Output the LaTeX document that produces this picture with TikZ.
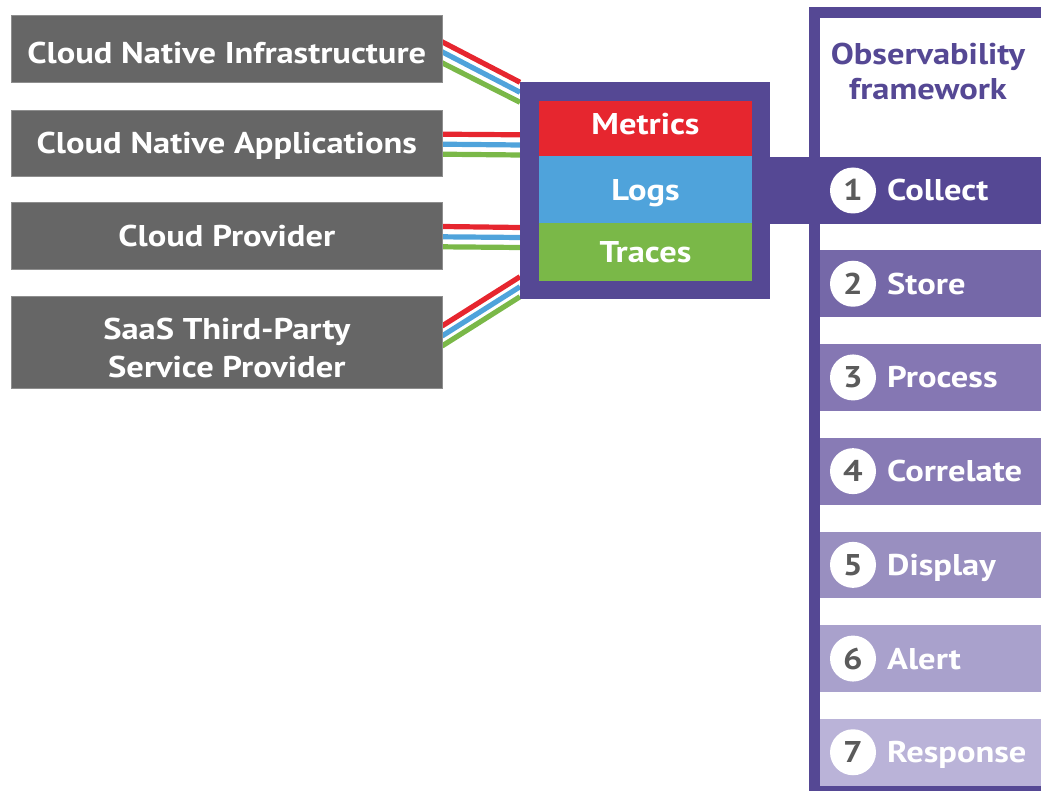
\documentclass[tikz,border=0pt]{standalone}
\usepackage{fontspec}
\setmainfont{PT Sans}[FakeStretch=1.15]
\usetikzlibrary{calc,backgrounds}
\definecolor{purp}{HTML}{554894}
\definecolor{stB}{HTML}{7568A8}
\definecolor{stC}{HTML}{8577B3}
\definecolor{stD}{HTML}{887BB5}
\definecolor{stE}{HTML}{998FC0}
\definecolor{stF}{HTML}{A9A1CC}
\definecolor{stG}{HTML}{BAB3D8}
\definecolor{wred}{HTML}{E6262F}
\definecolor{wblue}{HTML}{4FA3DB}
\definecolor{wgreen}{HTML}{7AB848}
\definecolor{srcgray}{HTML}{666666}
\definecolor{srcedge}{HTML}{8E8E8E}
\definecolor{numgray}{HTML}{5B5B5B}
\begin{document}
\begin{tikzpicture}[x=1pt,y=-1pt,
  txt/.style={font=\fontsize{30}{37.7}\selectfont\bfseries, text=white},
  src/.style={txt, fill=srcgray, draw=srcedge, line width=0.7pt, minimum width=430.5pt,
    inner sep=0pt, outer sep=0pt, text height=21pt, text depth=0pt},
  cell/.style={txt, minimum width=213pt, inner sep=0pt, outer sep=0pt,
    text height=21pt, text depth=0pt},
  band/.style={minimum width=240pt, minimum height=66.7pt, inner sep=0pt, outer sep=0pt},
  num/.style={circle, fill=white, minimum size=46pt, inner sep=0pt,
    font=\fontsize{30}{36}\selectfont\bfseries, text=numgray, text height=21pt, text depth=0pt},
  steplabel/.style={txt, anchor=west, inner sep=0pt, text height=21pt, text depth=0pt},
  wire/.style={line width=5.2pt}
]
\useasboundingbox (0,0) rectangle (1041,791);
\clip (0,0) rectangle (1041,791);

% framework frame
\fill[purp] (809,7.3) rectangle (1070,797);
\fill[white] (820,18.3) rectangle (1070,785);
\node[txt, text=purp, align=center, font=\fontsize{30}{35}\selectfont\bfseries] (title) at (928,71.5) {Observability\\framework};

% sources
\node[src, minimum height=66.3pt, text height=29pt] (b1) at (226.8,48.9) {Cloud Native Infrastructure};
\node[src, minimum height=66pt] (b2) at (226.8,143) {Cloud Native Applications};
\node[src, minimum height=66.3pt] (b3) at (226.8,235.9) {Cloud Provider};
\node[src, minimum height=92pt, align=center, text height=, text depth=] (b4) at (226.8,342) {};
\node[txt, align=center, inner sep=0pt] (b4t) at (226.8,347.9) {SaaS Third-Party\\Service Provider};

% hub
\node[fill=purp, minimum width=250pt, minimum height=216.7pt, inner sep=0pt, outer sep=0pt] (hub) at (645,190.5) {};
\node[cell, fill=wred, minimum height=55pt, text depth=9pt] (met) at (645.5,128.5) {Metrics};
\node[cell, fill=wblue, minimum height=67.3pt] (logs) at (645.5,189.7) {Logs};
\node[cell, fill=wgreen, minimum height=57.4pt] (trc) at (645.5,252) {Traces};

% wires
\begin{scope}[on background layer]
\draw[wire, wred]   ($(b1.east)+(0,-7.1)$) -- ($(hub.west)+(0,-108.2)$);
\draw[wire, wblue]  ($(b1.east)+(0,2.9)$)  -- ($(hub.west)+(0,-98.2)$);
\draw[wire, wgreen] ($(b1.east)+(0,13.9)$) -- ($(hub.west)+(0,-88.2)$);
\draw[wire, wred]   ($(b2.east)+(0,-8.8)$) -- ($(hub.west)+(0,-55.7)$);
\draw[wire, wblue]  ($(b2.east)+(0,1.2)$)  -- ($(hub.west)+(0,-45.5)$);
\draw[wire, wgreen] ($(b2.east)+(0,11.2)$) -- ($(hub.west)+(0,-35.5)$);
\draw[wire, wred]   ($(b3.east)+(0,-9.4)$) -- ($(hub.west)+(0,37)$);
\draw[wire, wblue]  ($(b3.east)+(0,0.9)$)  -- ($(hub.west)+(0,47)$);
\draw[wire, wgreen] ($(b3.east)+(0,10.9)$) -- ($(hub.west)+(0,57)$);
\draw[wire, wred]   ($(b4.east)+(0,-16)$)  -- ($(hub.west)+(0,86.2)$);
\draw[wire, wblue]  ($(b4.east)+(0,-6)$)   -- ($(hub.west)+(0,96.2)$);
\draw[wire, wgreen] ($(b4.east)+(0,4)$)    -- ($(hub.west)+(0,106.2)$);
\end{scope}

% steps
\node[band, fill=purp] (s1) at (940,190.5) {};
\node[band, fill=stB] (s2) at (940,283.75) {};
\node[band, fill=stC] (s3) at (940,377.45) {};
\node[band, fill=stD] (s4) at (940,471.15) {};
\node[band, fill=stE] (s5) at (940,564.85) {};
\node[band, fill=stF] (s6) at (940,658.55) {};
\node[band, fill=stG] (s7) at (940,752.25) {};
\draw[purp, line width=66.7pt] (hub.east) -- (s1.west);

\foreach \i/\yy/\t in {1/190.5/Collect, 2/283.75/Store, 3/377.45/Process, 4/471.15/Correlate,
                       5/564.85/Display, 6/658.55/Alert, 7/752.25/Response}{
  \node[num] (n\i) at (853,\yy) {\i};
  \node[steplabel] (l\i) at (887,\yy) {\t};
}
\end{tikzpicture}
\end{document}
